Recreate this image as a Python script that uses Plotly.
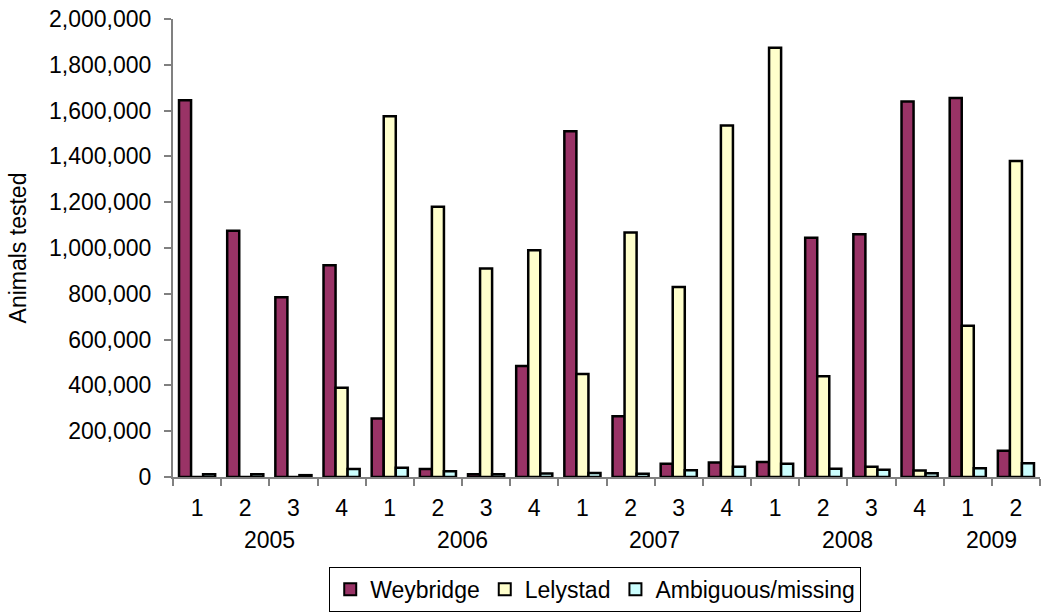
import plotly.graph_objects as go

# Quarterly counts of animals tested, by laboratory
years = ["2005", "2006", "2007", "2008", "2009"]
quarters_per_year = [4, 4, 4, 4, 2]
quarter_labels = ["1", "2", "3", "4",
                  "1", "2", "3", "4",
                  "1", "2", "3", "4",
                  "1", "2", "3", "4",
                  "1", "2"]

weybridge = [1645000, 1075000, 785000, 925000,
             255000, 35000, 12000, 485000,
             1510000, 265000, 58000, 63000,
             66000, 1045000, 1060000, 1640000,
             1655000, 115000]
lelystad = [0, 0, 0, 390000,
            1575000, 1180000, 910000, 990000,
            450000, 1068000, 830000, 1535000,
            1875000, 440000, 45000, 28000,
            660000, 1380000]
ambiguous = [12000, 12000, 8000, 35000,
             40000, 25000, 12000, 15000,
             18000, 14000, 30000, 45000,
             58000, 36000, 32000, 16000,
             38000, 60000]

series = [
    ("Weybridge", weybridge, "#993366"),
    ("Lelystad", lelystad, "#FFFFCC"),
    ("Ambiguous/missing", ambiguous, "#CCFFFF"),
]

FONT = "Arial, 'Liberation Sans', sans-serif"
FS = 23
x = list(range(len(quarter_labels)))

fig = go.Figure()
for name, vals, color in series:
    fig.add_trace(go.Bar(
        x=x, y=vals, name=name,
        marker=dict(color=color, line=dict(color="black", width=2.5)),
    ))

# Year labels centred beneath each group of quarters
start = 0
for yr, n in zip(years, quarters_per_year):
    centre = start + (n - 1) / 2
    fig.add_annotation(
        x=centre, xref="x", y=-0.137, yref="paper",
        text=yr, showarrow=False, yanchor="middle",
        font=dict(family=FONT, size=FS, color="black"),
    )
    start += n

fig.update_layout(
    width=1043, height=612,
    margin=dict(l=173, r=3, t=19, b=135, autoexpand=False),
    paper_bgcolor="white", plot_bgcolor="white",
    barmode="group", bargap=0.25, bargroupgap=0,
    font=dict(family=FONT, size=FS, color="black"),
    legend=dict(
        orientation="h", x=0.487, xanchor="center",
        yref="container", y=0.037, yanchor="middle",
        bordercolor="black", borderwidth=1,
        font=dict(family=FONT, size=FS, color="black"),
        itemsizing="constant", itemwidth=30,
    ),
    xaxis=dict(
        range=[-0.5, len(x) - 0.5],
        tickmode="array", tickvals=x, ticktext=quarter_labels,
        ticks="outside", ticklen=9, tickcolor="rgba(0,0,0,0)",
        showline=True, linecolor="#808080", linewidth=2,
        showgrid=False, zeroline=False,
        minor=dict(tickmode="array",
                   tickvals=[i - 0.5 for i in range(len(x) + 1)],
                   ticks="outside", ticklen=7, tickcolor="#808080",
                   tickwidth=2, showgrid=False),
        tickfont=dict(family=FONT, size=FS, color="black"),
    ),
    yaxis=dict(
        range=[0, 2000000], dtick=200000,
        tickformat=",d",
        ticks="outside", ticklen=7, tickcolor="#808080", tickwidth=2,
        showline=True, linecolor="#808080", linewidth=2,
        showgrid=False, zeroline=False,
        ticklabelstandoff=8,
        tickfont=dict(family=FONT, size=FS, color="black"),
        title=dict(text="Animals tested", standoff=16,
                   font=dict(family=FONT, size=FS, color="black")),
    ),
)

fig.write_html("out.html")
